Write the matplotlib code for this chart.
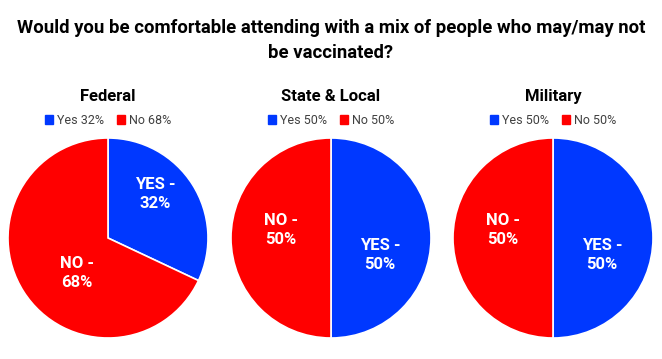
import matplotlib
matplotlib.use("Agg")
import matplotlib.pyplot as plt
from matplotlib.patches import Patch
from matplotlib import font_manager

names = {f.name for f in font_manager.fontManager.ttflist}
fam = "Liberation Sans Narrow" if "Liberation Sans Narrow" in names else "Roboto"
plt.rcParams['font.family'] = [fam, 'DejaVu Sans']

title_line1 = "Would you be comfortable attending with a mix of people who may/may not"
title_line2 = "be vaccinated?"
groups = ["Federal", "State & Local", "Military"]
yes_vals = [32, 50, 50]
no_vals = [68, 50, 50]
yes_label_pos = [(0.47, 0.44), (0.49, -0.17), (0.49, -0.17)]
no_label_pos = [(-0.31, -0.35), (-0.50, 0.08), (-0.50, 0.08)]

BLUE = "#0038FF"
RED = "#FF0000"
W, H = 662, 359
fig = plt.figure(figsize=(W/100, H/100), dpi=100)

t1 = fig.text(0.5, 1 - 28/H, title_line1, ha="center", va="center", fontsize=14,
              fontweight="bold")
t2 = fig.text(0.5, 1 - 53/H, title_line2, ha="center", va="center", fontsize=14,
              fontweight="bold")
renderer = fig.canvas.get_renderer()
w = t1.get_window_extent(renderer).width
fs = 14 * 626 / w
t1.set_fontsize(fs)
t2.set_fontsize(fs)

centers = [108, 331, 553]
r = 101
cy = 238
for i, g in enumerate(groups):
    cx = centers[i]
    ax = fig.add_axes([(cx - r)/W, (H - cy - r)/H, 2*r/W, 2*r/H])
    ax.pie([yes_vals[i], no_vals[i]], colors=[BLUE, RED], startangle=90,
           counterclock=False, radius=1,
           wedgeprops=dict(edgecolor="white", linewidth=1.2))
    ax.set_xlim(-1.01, 1.01)
    ax.set_ylim(-1.01, 1.01)
    ax.set_aspect("auto")
    ax.axis("off")
    ax.text(*yes_label_pos[i], f"YES -\n{yes_vals[i]}%", color="white", ha="center",
            va="center", fontsize=12, fontweight="bold", linespacing=1.3)
    ax.text(*no_label_pos[i], f"NO -\n{no_vals[i]}%", color="white", ha="center",
            va="center", fontsize=12, fontweight="bold", linespacing=1.3)
    fig.text(cx/W, 1 - 97/H, g, ha="center", va="center", fontsize=12, fontweight="bold")
    handles = [Patch(color=BLUE, label=f"Yes {yes_vals[i]}%"),
               Patch(color=RED, label=f"No {no_vals[i]}%")]
    fig.legend(handles=handles, loc="center", bbox_to_anchor=(cx/W, 1 - 120/H),
               ncol=2, frameon=False, fontsize=9, handlelength=0.7, handleheight=0.7,
               handletextpad=0.3, columnspacing=1.0, labelcolor="#404040")

fig.savefig("out.png", dpi=100, facecolor="white")
